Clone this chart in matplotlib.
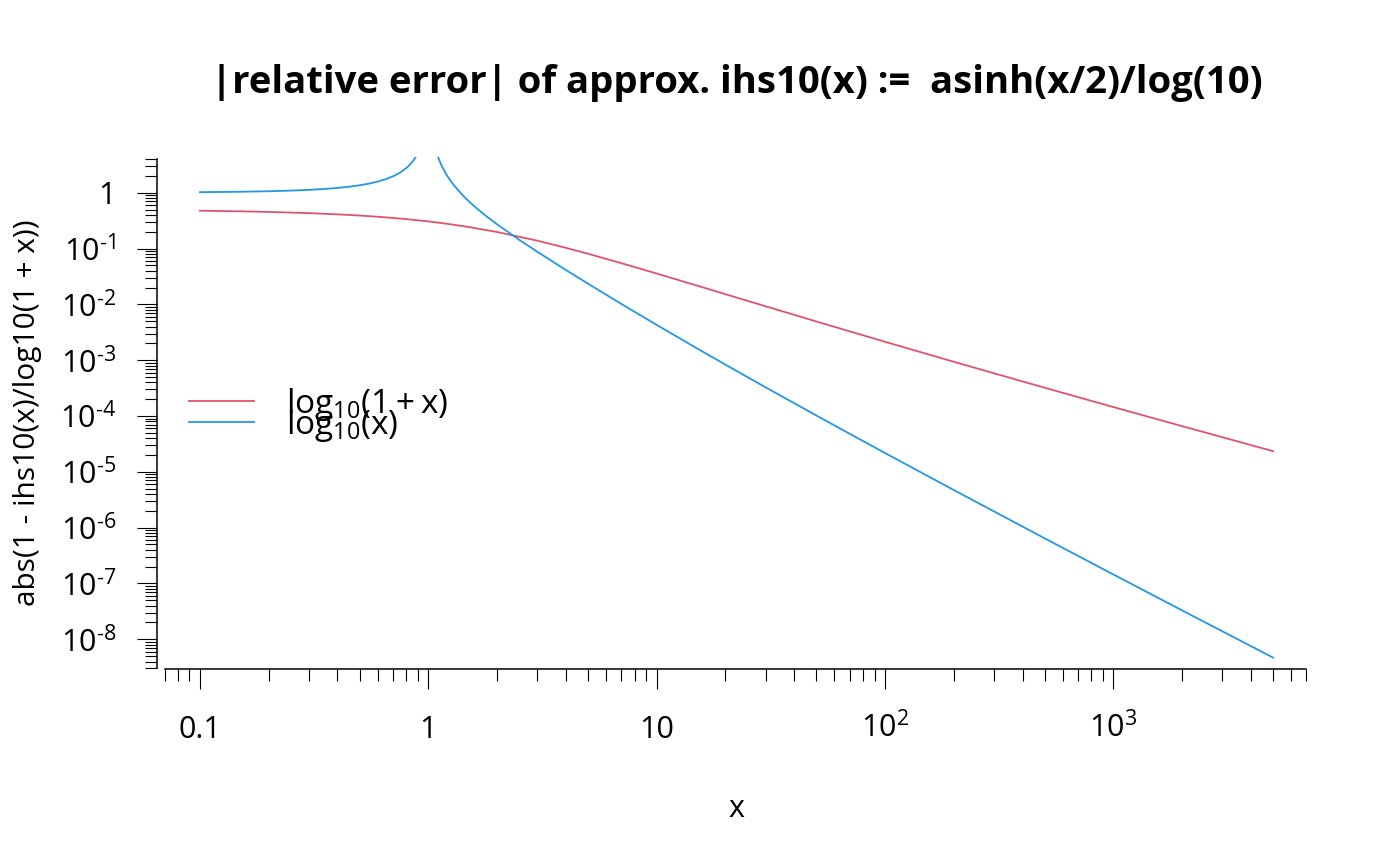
import matplotlib
matplotlib.use("Agg")
import matplotlib.pyplot as plt
from matplotlib.ticker import FixedLocator, NullFormatter

plt.rcParams["font.family"] = ["Open Sans", "DejaVu Sans"]
plt.rcParams["mathtext.fontset"] = "custom"
plt.rcParams["mathtext.rm"] = "Open Sans"
plt.rcParams["mathtext.it"] = "Open Sans:italic"
plt.rcParams["mathtext.bf"] = "Open Sans:bold"

RED = "#DF536B"
BLUE = "#2297E6"

# |1 - ihs10(x)/log10(1+x)|
red_x = [0.1, 0.15, 0.2, 0.3, 0.4, 0.5, 0.6, 0.7, 0.85, 1, 1.2, 1.5, 2, 3, 4,
         5, 7, 10, 15, 20, 30, 50, 100, 200, 500, 1000, 2000, 5000]
red_y = [0.4756, 0.4639, 0.4524, 0.4304, 0.4095, 0.3897, 0.3709, 0.3532,
         0.3284, 0.3058, 0.2786, 0.2435, 0.1977, 0.1382, 0.1030, 0.08066,
         0.05469, 0.03564, 0.02169, 0.01521, 0.009226, 0.004935, 0.0021345,
         0.00093574, 0.00032076, 0.00014453, 6.5728e-5, 2.3474e-5]

# |1 - ihs10(x)/log10(x)|, branch x < 1
blue_lo_x = [0.1, 0.15, 0.2, 0.25, 0.3, 0.35, 0.4, 0.45, 0.5, 0.55, 0.6,
             0.65, 0.7, 0.75, 0.8, 0.82, 0.85, 0.87, 0.88, 0.9]
blue_lo_y = [1.0217, 1.0395, 1.0620, 1.0899, 1.1241, 1.1659, 1.2168, 1.2795,
             1.3570, 1.4544, 1.5788, 1.7417, 1.9623, 2.2748, 2.7479, 3.0121,
             3.5421, 4.0326, 4.3396, 5.1387]

# branch x > 1
blue_hi_x = [1.09, 1.1, 1.12, 1.15, 1.2, 1.25, 1.3, 1.4, 1.5, 1.6, 1.7, 1.8,
             2, 2.5, 3, 4, 5, 7, 10, 15, 20, 30, 50, 70, 100, 200, 500, 1000,
             2000, 5000]
blue_hi_y = [5.0468, 4.5133, 3.7140, 2.9157, 2.1199, 1.6447, 1.3297, 0.93973,
             0.70951, 0.55886, 0.45344, 0.37612, 0.27156, 0.14330, 0.08752,
             0.04136, 0.023482, 0.010179, 0.004285, 0.0016302, 0.00083138,
             0.00032612, 0.00010220, 4.8036e-5, 2.1715e-5, 4.7185e-6,
             6.4365e-7, 1.4476e-7, 3.2891e-8, 4.6964e-9]

x_major = [0.1, 1, 10, 100, 1000]
x_major_labels = ["0.1", "1", "10", r"$10^{2}$", r"$10^{3}$"]
y_major = [10.0 ** k for k in range(-8, 1)]
y_major_labels = ["$10^{\u2010%d}$" % -k for k in range(-8, 0)] + ["1"]

legend_labels = [r"$\mathrm{log}_{10}(1+\mathrm{x})$", r"$\mathrm{log}_{10}(\mathrm{x})$"]

W, H = 1400, 866
fig = plt.figure(figsize=(W / 100, H / 100), dpi=100)
ax = fig.add_axes([157 / W, 1 - 669 / H, (1316 - 157) / W, (669 - 157) / H])

l1, = ax.plot(red_x, red_y, color=RED, lw=1.3)
l2, = ax.plot(blue_lo_x, blue_lo_y, color=BLUE, lw=1.3)
ax.plot(blue_hi_x, blue_hi_y, color=BLUE, lw=1.3)

ax.set_xscale("log")
ax.set_yscale("log")
ax.set_xlim(10 ** -1.188, 10 ** 3.887)
ax.set_ylim(10 ** -8.532, 10 ** 0.6394)

# R-style: only left/bottom axes, spanning the outermost ticks
for s in ["top", "right"]:
    ax.spines[s].set_visible(False)
ax.spines["left"].set_bounds(3e-9, 4)
ax.spines["bottom"].set_bounds(0.07, 7000)
ax.spines["left"].set_linewidth(1.1)
ax.spines["bottom"].set_linewidth(1.1)

x_minor = [m * 10.0 ** k for k in range(-2, 4) for m in range(2, 10)]
x_minor = [v for v in x_minor if 0.069 < v < 7001]
y_minor = [m * 10.0 ** k for k in range(-9, 1) for m in range(2, 10)]
y_minor = [v for v in y_minor if 2.9e-9 < v < 4.1]

ax.xaxis.set_major_locator(FixedLocator(x_major))
ax.xaxis.set_minor_locator(FixedLocator(x_minor))
ax.xaxis.set_minor_formatter(NullFormatter())
ax.yaxis.set_major_locator(FixedLocator(y_major))
ax.yaxis.set_minor_locator(FixedLocator(y_minor))
ax.yaxis.set_minor_formatter(NullFormatter())
ax.set_xticks(x_major, labels=x_major_labels)
ax.set_yticks(y_major, labels=y_major_labels)

ax.tick_params(which="major", length=14.4, width=0.8, labelsize=22)
ax.tick_params(which="minor", length=8.6, width=0.8)
ax.tick_params(axis="x", which="major", pad=35)
ax.tick_params(axis="y", which="major", pad=15)
for lab in ax.get_xticklabels():
    lab.set_verticalalignment("baseline")

ax.set_title("|relative error| of approx. ihs10(x) :=  asinh(x/2)/log(10)",
             fontsize=27.5, fontweight="bold", pad=46)

ax.set_xlabel("x", fontsize=22)
ax.xaxis.label.set_verticalalignment("baseline")
ax.xaxis.set_label_coords(0.5, -0.2885)
ax.set_ylabel("abs(1 - ihs10(x)/log10(1 + x))", fontsize=21.5)
ax.yaxis.label.set_verticalalignment("baseline")
ax.yaxis.set_label_coords(-0.1053, 0.5)

ax.legend([l1, l2], legend_labels, loc="center left",
          bbox_to_anchor=(189 / W, 1 - 415 / H), bbox_transform=fig.transFigure,
          frameon=False, fontsize=24, handlelength=1.95, handletextpad=0.95,
          labelspacing=-0.47, borderpad=0, borderaxespad=0)

fig.savefig("out.png", dpi=100)
